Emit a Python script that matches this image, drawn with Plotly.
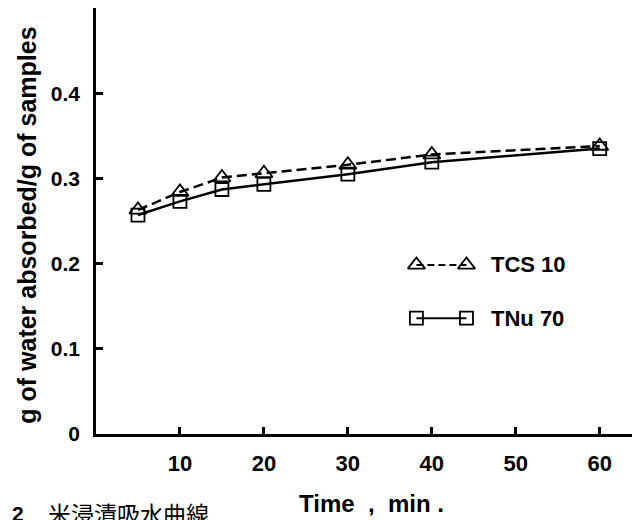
import plotly.graph_objects as go

time_min = [5, 10, 15, 20, 30, 40, 60]
tcs10 = [0.263, 0.284, 0.301, 0.306, 0.316, 0.328, 0.338]
tnu70 = [0.257, 0.273, 0.287, 0.293, 0.305, 0.319, 0.335]
x_ticks = [10, 20, 30, 40, 50, 60]
y_ticks = [0, 0.1, 0.2, 0.3, 0.4]
y_tick_text = ["0", "0.1", "0.2", "0.3", "0.4"]

FONT = "Liberation Sans, Arial, sans-serif"
NB = "\u00a0"

fig = go.Figure()
fig.add_trace(go.Scatter(
    x=time_min, y=tcs10, mode="lines+markers", name="TCS 10",
    line=dict(color="black", width=2.5, dash="10px,5px"),
    marker=dict(symbol="triangle-up-open", size=15, color="black", line=dict(width=1.8)),
    showlegend=False))
fig.add_trace(go.Scatter(
    x=time_min, y=tnu70, mode="lines+markers", name="TNu 70",
    line=dict(color="black", width=2.5),
    marker=dict(symbol="square-open", size=13, color="black", line=dict(width=1.8)),
    showlegend=False))

# custom legend (marker-line-marker samples) on a hidden overlay axis (paper fractions)
leg = [("TCS 10", "triangle-up-open", "7px,4px", 0.397, 15), ("TNu 70", "square-open", "solid", 0.272, 13)]
for name, sym, dash, ly, ms in leg:
    fig.add_trace(go.Scatter(
        x=[0.589, 0.681], y=[ly, ly], xaxis="x2", yaxis="y2", mode="lines+markers",
        line=dict(color="black", width=2, dash=dash),
        marker=dict(symbol=sym, size=ms, color="black", line=dict(width=1.8)),
        showlegend=False, hoverinfo="skip"))
    fig.add_annotation(x=0.722, y=ly, xref="x2", yref="y2", text=name, showarrow=False,
                       xanchor="left", yanchor="middle",
                       font=dict(family=FONT, size=22, color="black", weight="bold"))

# page body has an 8px margin: figure sized to the visible window area
fig.update_layout(
    width=632, height=512,
    margin=dict(l=88, r=0, t=0, b=86),
    paper_bgcolor="white", plot_bgcolor="white",
    xaxis=dict(range=[0, 64.8], tickvals=x_ticks, ticks="inside", ticklen=7, tickwidth=2.5,
               tickcolor="black", showline=True, linecolor="black", linewidth=2.5,
               showgrid=False, zeroline=False, ticklabelstandoff=8, automargin=False,
               tickfont=dict(family=FONT, size=22, color="black", weight="bold")),
    yaxis=dict(range=[0, 0.50], tickvals=y_ticks, ticktext=y_tick_text, ticks="inside",
               ticklen=7, tickwidth=2.5, tickcolor="black", showline=True, linecolor="black",
               linewidth=2.5, showgrid=False, zeroline=False, ticklabelstandoff=9,
               automargin=False,
               tickfont=dict(family=FONT, size=21, color="black", weight="bold")),
    xaxis2=dict(range=[0, 1], overlaying="x", visible=False),
    yaxis2=dict(range=[0, 1], overlaying="y", visible=False),
)

fig.add_annotation(x=-0.126, y=0.49, xref="paper", yref="paper", textangle=-90,
                   text="g of water absorbed/g of samples", showarrow=False,
                   xanchor="center", yanchor="middle",
                   font=dict(family=FONT, size=25, color="black", weight="bold"))
fig.add_annotation(x=0.506, y=-0.163, xref="paper", yref="paper",
                   text="Time" + NB * 2 + "," + NB * 2 + "min" + NB + ".", showarrow=False,
                   xanchor="center", yanchor="middle",
                   font=dict(family=FONT, size=24, color="black", weight="bold"))
fig.add_annotation(x=-0.158, y=-0.186, xref="paper", yref="paper",
                   text="2", showarrow=False, xanchor="left", yanchor="middle",
                   font=dict(family=FONT, size=21, color="black", weight="bold"))
fig.add_annotation(x=-0.092, y=-0.186, xref="paper", yref="paper",
                   text="米浸漬吸水曲線", showarrow=False, xanchor="left", yanchor="middle",
                   font=dict(family="Noto Sans CJK JP", size=23, color="black"))

fig.write_html("out.html")
